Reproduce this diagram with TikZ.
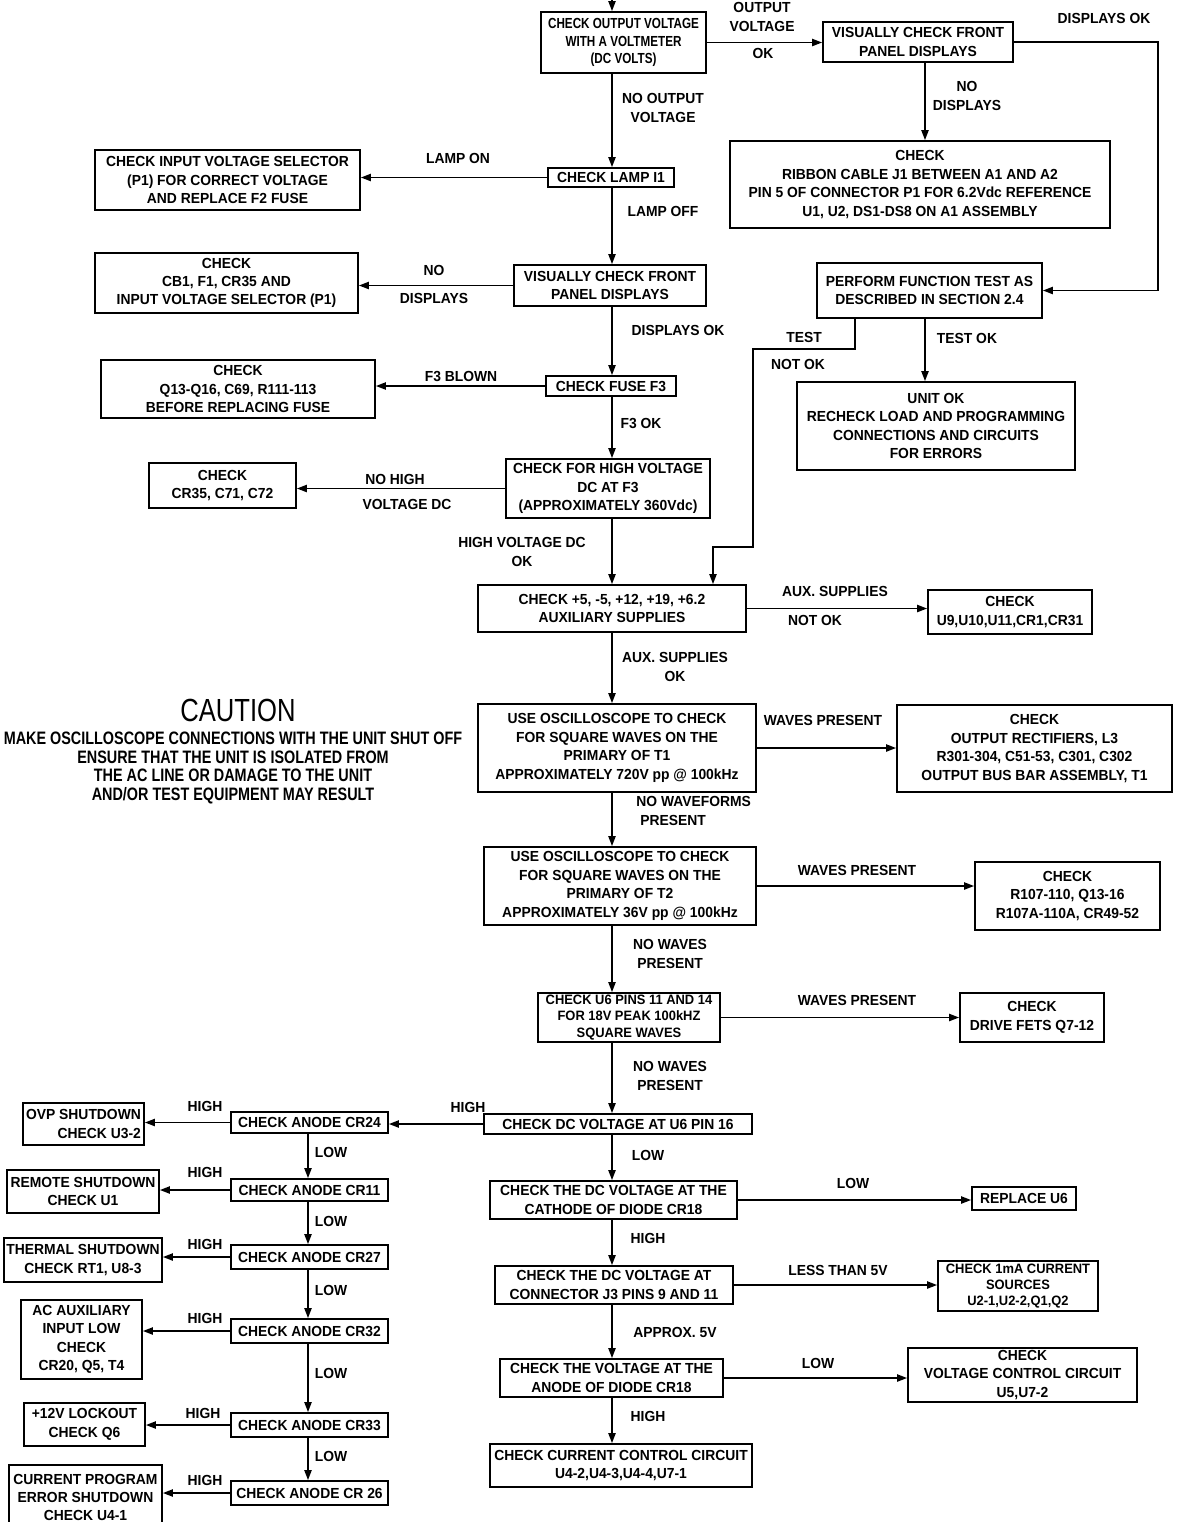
\documentclass[tikz,border=0pt]{standalone}
\usepackage{fontspec}
\newfontfamily\plotfont{Liberation Sans}[FakeStretch=0.95]
\newfontfamily\plotnarrow{Liberation Sans}[FakeStretch=0.8]
\usetikzlibrary{arrows.meta}
\begin{document}
\begin{tikzpicture}[x=0.5pt,y=-0.5pt,
  txt/.style={font={\plotfont\bfseries\fontsize{7.3}{9.2}\selectfont}},
  box/.style={txt,draw,line width=0.9pt,inner sep=0pt,align=center},
  sz/.style 2 args={minimum width=#1*0.5pt,minimum height=#2*0.5pt},
  narrow/.style={font={\plotnarrow\bfseries\fontsize{7.3}{8.6}\selectfont}},
  small/.style={font={\plotfont\bfseries\fontsize{6.8}{8.2}\selectfont}},
  lbl/.style={txt,inner sep=0pt,align=center},
  arr/.style={line width=0.8pt,-{Triangle[length=5pt,width=3.6pt]}}]
\useasboundingbox (0,0) rectangle (1181,1522);
\fill[white] (0,0) rectangle (1181,1522);
\clip (0,0) rectangle (1181,1522);

% column coordinates
\coordinate (colx) at (612,0);
\coordinate (rcol) at (925,0);
\coordinate (lcol) at (308,0);
\coordinate (rr) at (1158,0);
\coordinate (nx) at (855,0);
\coordinate (j1) at (753,349);
\coordinate (j2) at (713,547);
\coordinate (entry) at (612,-4);

% ---------- boxes ----------
\node[box,narrow,sz={165}{61}] (top) at (623.5,42.5) {CHECK OUTPUT VOLTAGE\\WITH A VOLTMETER\\(DC VOLTS)};
\node[box,sz={190}{40}] (vis1) at (918,42) {VISUALLY CHECK FRONT\\PANEL DISPLAYS};
\node[box,sz={380}{87}] (ribbon) at (920,184.5) {CHECK\\RIBBON CABLE J1 BETWEEN A1 AND A2\\PIN 5 OF CONNECTOR P1 FOR 6.2Vdc REFERENCE\\U1, U2, DS1-DS8 ON A1 ASSEMBLY};
\node[box,sz={126}{19}] (lamp) at (611,177.5) {CHECK LAMP I1};
\node[box,sz={265}{60}] (inputsel) at (227.5,180) {CHECK INPUT VOLTAGE SELECTOR\\(P1) FOR CORRECT VOLTAGE\\AND REPLACE F2 FUSE};
\node[box,sz={192}{41}] (vis2) at (610,285.5) {VISUALLY CHECK FRONT\\PANEL DISPLAYS};
\node[box,sz={263}{60}] (cb1) at (226.5,283) {CHECK\\CB1, F1, CR35 AND\\INPUT VOLTAGE SELECTOR (P1)};
\node[box,sz={130}{20}] (fuse) at (611,386) {CHECK FUSE F3};
\node[box,sz={274}{58}] (q13) at (238,389) {CHECK\\Q13-Q16, C69, R111-113\\BEFORE REPLACING FUSE};
\node[box,sz={204}{59}] (hv) at (608,488.5) {CHECK FOR HIGH VOLTAGE\\DC AT F3\\(APPROXIMATELY 360Vdc)};
\node[box,sz={147}{45}] (cr35) at (222.5,485.5) {CHECK\\CR35, C71, C72};
\node[box,sz={225}{55}] (perform) at (929.5,290.5) {PERFORM FUNCTION TEST AS\\DESCRIBED IN SECTION 2.4};
\node[box,sz={278}{88}] (unitok) at (936,426) {UNIT OK\\RECHECK LOAD AND PROGRAMMING\\CONNECTIONS AND CIRCUITS\\FOR ERRORS};
\node[box,sz={268}{47}] (aux) at (612,608.5) {CHECK +5, -5, +12, +19, +6.2\\AUXILIARY SUPPLIES};
\node[box,sz={164}{44}] (u9) at (1010,612) {CHECK\\U9,U10,U11,CR1,CR31};
\node[box,sz={278}{88}] (osc1) at (617,748) {USE OSCILLOSCOPE TO CHECK\\FOR SQUARE WAVES ON THE\\PRIMARY OF T1\\APPROXIMATELY 720V pp @ 100kHz};
\node[box,sz={275}{87}] (outrect) at (1034.5,748.5) {CHECK\\OUTPUT RECTIFIERS, L3\\R301-304, C51-53, C301, C302\\OUTPUT BUS BAR ASSEMBLY, T1};
\node[box,sz={272}{78}] (osc2) at (620,886) {USE OSCILLOSCOPE TO CHECK\\FOR SQUARE WAVES ON THE\\PRIMARY OF T2\\APPROXIMATELY 36V pp @ 100kHz};
\node[box,sz={185}{68}] (r107) at (1067.5,896) {CHECK\\R107-110, Q13-16\\R107A-110A, CR49-52};
\node[box,small,sz={182}{49}] (u6) at (629,1017.5) {CHECK U6 PINS 11 AND 14\\FOR 18V PEAK 100kHZ\\SQUARE WAVES};
\node[box,sz={144}{49}] (fets) at (1032,1017.5) {CHECK\\DRIVE FETS Q7-12};
\node[box,sz={268}{20}] (dc16) at (618,1124) {CHECK DC VOLTAGE AT U6 PIN 16};
\node[box,sz={247}{38}] (cathode) at (613.5,1200) {CHECK THE DC VOLTAGE AT THE\\CATHODE OF DIODE CR18};
\node[box,sz={104}{23}] (replace) at (1024,1198.5) {REPLACE U6};
\node[box,sz={238}{38}] (j3) at (614,1285) {CHECK THE DC VOLTAGE AT\\CONNECTOR J3 PINS 9 AND 11};
\node[box,small,sz={160}{50}] (ma) at (1018,1286) {CHECK 1mA CURRENT\\SOURCES\\U2-1,U2-2,Q1,Q2};
\node[box,sz={223}{38}] (anode) at (611.5,1378) {CHECK THE VOLTAGE AT THE\\ANODE OF DIODE CR18};
\node[box,sz={229}{54}] (volt) at (1022.5,1375) {CHECK\\VOLTAGE CONTROL CIRCUIT\\U5,U7-2};
\node[box,sz={262}{43}] (cc) at (621,1465.5) {CHECK CURRENT CONTROL CIRCUIT\\U4-2,U4-3,U4-4,U7-1};

% left column
\node[box,sz={157}{21}] (cr24) at (309.5,1122.5) {CHECK ANODE CR24};
\node[box,sz={157}{22}] (cr11) at (309.5,1190) {CHECK ANODE CR11};
\node[box,sz={157}{24}] (cr27) at (309.5,1257) {CHECK ANODE CR27};
\node[box,sz={157}{24}] (cr32) at (309.5,1331) {CHECK ANODE CR32};
\node[box,sz={157}{24}] (cr33) at (309.5,1425) {CHECK ANODE CR33};
\node[box,sz={157}{24}] (cr26) at (309.5,1493) {CHECK ANODE CR 26};
\node[box,sz={121}{42},align=right] (ovp) at (83.5,1124) {OVP SHUTDOWN\\CHECK U3-2};
\node[box,sz={152}{43}] (remote) at (83,1191.5) {REMOTE SHUTDOWN\\CHECK U1};
\node[box,sz={158}{44}] (thermal) at (83,1260) {THERMAL SHUTDOWN\\CHECK RT1, U8-3};
\node[box,sz={121}{79}] (acaux) at (81.5,1339.5) {AC AUXILIARY\\INPUT LOW\\CHECK\\CR20, Q5, T4};
\node[box,sz={121}{43}] (lockout) at (84.5,1424.5) {+12V LOCKOUT\\CHECK Q6};
\node[box,sz={153}{65}] (cprog) at (85.5,1497.5) {CURRENT PROGRAM\\ERROR SHUTDOWN\\CHECK U4-1};

% ---------- connectors ----------
\draw[arr] (entry) -- (top.north -| colx);
\draw[arr] (top.east) -- (top.east -| vis1.west);
\draw[arr] (vis1.east) -- (vis1.east -| rr) |- (perform.east);
\draw[arr] (vis1.south -| rcol) -- (ribbon.north -| rcol);
\draw[arr] (top.south -| colx) -- (lamp.north -| colx);
\draw[arr] (lamp.west) -- (lamp.west -| inputsel.east);
\draw[arr] (lamp.south -| colx) -- (vis2.north -| colx);
\draw[arr] (vis2.west) -- (vis2.west -| cb1.east);
\draw[arr] (vis2.south -| colx) -- (fuse.north -| colx);
\draw[arr] (fuse.west) -- (fuse.west -| q13.east);
\draw[arr] (fuse.south -| colx) -- (hv.north -| colx);
\draw[arr] (hv.west) -- (hv.west -| cr35.east);
\draw[arr] (hv.south -| colx) -- (aux.north -| colx);
\draw[arr] (perform.south -| rcol) -- (unitok.north -| rcol);
\draw[arr] (perform.south -| nx) |- (j1) |- (j2) -- (aux.north -| j2);
\draw[arr] (aux.east) -- (aux.east -| u9.west);
\draw[arr] (aux.south -| colx) -- (osc1.north -| colx);
\draw[arr] (osc1.east) -- (osc1.east -| outrect.west);
\draw[arr] (osc1.south -| colx) -- (osc2.north -| colx);
\draw[arr] (osc2.east) -- (osc2.east -| r107.west);
\draw[arr] (osc2.south -| colx) -- (u6.north -| colx);
\draw[arr] (u6.east) -- (u6.east -| fets.west);
\draw[arr] (u6.south -| colx) -- (dc16.north -| colx);
\draw[arr] (dc16.west) -- (dc16.west -| cr24.east);
\draw[arr] (dc16.south -| colx) -- (cathode.north -| colx);
\draw[arr] (cathode.east) -- (cathode.east -| replace.west);
\draw[arr] (cathode.south -| colx) -- (j3.north -| colx);
\draw[arr] (j3.east) -- (j3.east -| ma.west);
\draw[arr] (j3.south -| colx) -- (anode.north -| colx);
\draw[arr] (anode.east) -- (anode.east -| volt.west);
\draw[arr] (anode.south -| colx) -- (cc.north -| colx);

\draw[arr] (cr24.west) -- (cr24.west -| ovp.east);
\draw[arr] (cr11.west) -- (cr11.west -| remote.east);
\draw[arr] (cr27.west) -- (cr27.west -| thermal.east);
\draw[arr] (cr32.west) -- (cr32.west -| acaux.east);
\draw[arr] (cr33.west) -- (cr33.west -| lockout.east);
\draw[arr] (cr26.west) -- (cr26.west -| cprog.east);
\draw[arr] (cr24.south -| lcol) -- (cr11.north -| lcol);
\draw[arr] (cr11.south -| lcol) -- (cr27.north -| lcol);
\draw[arr] (cr27.south -| lcol) -- (cr32.north -| lcol);
\draw[arr] (cr32.south -| lcol) -- (cr33.north -| lcol);
\draw[arr] (cr33.south -| lcol) -- (cr26.north -| lcol);

% ---------- labels ----------
\node[lbl] (l1) at (762,17) {OUTPUT\\VOLTAGE};
\node[lbl] (l2) at (763,53) {OK};
\node[lbl] (l3) at (1104,18) {DISPLAYS OK};
\node[lbl] (l4) at (967,96) {NO\\DISPLAYS};
\node[lbl] (l5) at (663,108) {NO OUTPUT\\VOLTAGE};
\node[lbl] (l6) at (458,158) {LAMP ON};
\node[lbl] (l7) at (663,211) {LAMP OFF};
\node[lbl] (l8) at (434,270) {NO};
\node[lbl] (l9) at (434,298) {DISPLAYS};
\node[lbl] (l10) at (678,330) {DISPLAYS OK};
\node[lbl] (l11) at (461,376) {F3 BLOWN};
\node[lbl] (l12) at (641,423) {F3 OK};
\node[lbl] (l13) at (395,479) {NO HIGH};
\node[lbl] (l14) at (407,504) {VOLTAGE DC};
\node[lbl] (l15) at (522,552) {HIGH VOLTAGE DC\\OK};
\node[lbl] (l16) at (804,337) {TEST};
\node[lbl] (l17) at (798,364) {NOT OK};
\node[lbl] (l18) at (967,338) {TEST OK};
\node[lbl] (l19) at (835,591) {AUX. SUPPLIES};
\node[lbl] (l20) at (815,620) {NOT OK};
\node[lbl] (l21) at (675,667) {AUX. SUPPLIES\\OK};
\node[lbl] (l22) at (823,720) {WAVES PRESENT};
\node[lbl,anchor=west,align=left] (l23) at (636,811) {NO WAVEFORMS\\\ PRESENT};
\node[lbl] (l24) at (857,870) {WAVES PRESENT};
\node[lbl] (l25) at (670,954) {NO WAVES\\PRESENT};
\node[lbl] (l26) at (857,1000) {WAVES PRESENT};
\node[lbl] (l27) at (670,1076) {NO WAVES\\PRESENT};
\node[lbl] (l28) at (468,1107) {HIGH};
\node[lbl] (l29) at (648,1155) {LOW};
\node[lbl] (l30) at (853,1183) {LOW};
\node[lbl] (l31) at (648,1238) {HIGH};
\node[lbl] (l32) at (838,1270) {LESS THAN 5V};
\node[lbl] (l33) at (675,1332) {APPROX. 5V};
\node[lbl] (l34) at (818,1363) {LOW};
\node[lbl] (l35) at (648,1416) {HIGH};
\node[lbl] (h1) at (205,1106) {HIGH};
\node[lbl] (h2) at (205,1172) {HIGH};
\node[lbl] (h3) at (205,1244) {HIGH};
\node[lbl] (h4) at (205,1318) {HIGH};
\node[lbl] (h5) at (203,1413) {HIGH};
\node[lbl] (h6) at (205,1480) {HIGH};
\node[lbl] (w1) at (331,1152) {LOW};
\node[lbl] (w2) at (331,1221) {LOW};
\node[lbl] (w3) at (331,1290) {LOW};
\node[lbl] (w4) at (331,1373) {LOW};
\node[lbl] (w5) at (331,1456) {LOW};

% ---------- caution ----------
\node[inner sep=0pt,font={\plotnarrow\fontsize{16}{16}\selectfont}] (caution) at (238,710) {CAUTION};
\node[lbl,font={\plotnarrow\bfseries\fontsize{9}{9.3}\selectfont}] (cautiontext) at (233,768) {MAKE OSCILLOSCOPE CONNECTIONS WITH THE UNIT SHUT OFF\\ENSURE THAT THE UNIT IS ISOLATED FROM\\THE AC LINE OR DAMAGE TO THE UNIT\\AND/OR TEST EQUIPMENT MAY RESULT};
\end{tikzpicture}
\end{document}
